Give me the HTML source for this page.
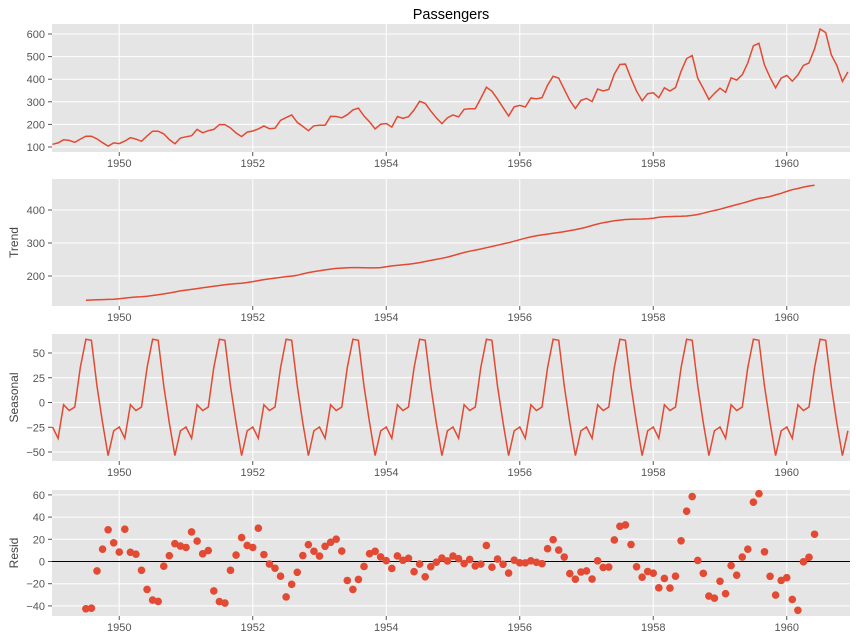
<!DOCTYPE html>
<html><head><meta charset="utf-8">
<style>
body{margin:0;background:#fff;}
svg{display:block;font-family:"Liberation Sans","DejaVu Sans",sans-serif;}
</style></head>
<body>
<svg id="s" width="856" height="640" xmlns="http://www.w3.org/2000/svg">
<text x="451" y="19" font-size="14.5" text-anchor="middle" fill="#000">Passengers</text>
</svg>
<script>
var d=[112,118,132,129,121,135,148,148,136,119,104,118,
115,126,141,135,125,149,170,170,158,133,114,140,
145,150,178,163,172,178,199,199,184,162,146,166,
171,180,193,181,183,218,230,242,209,191,172,194,
196,196,236,235,229,243,264,272,237,211,180,201,
204,188,235,227,234,264,302,293,259,229,203,229,
242,233,267,269,270,315,364,347,312,274,237,278,
284,277,317,313,318,374,413,405,355,306,271,306,
315,301,356,348,355,422,465,467,404,347,305,336,
340,318,362,348,363,435,491,505,404,359,310,337,
360,342,406,396,420,472,548,559,463,407,362,405,
417,391,419,461,472,535,622,606,508,461,390,432];
var n=d.length,tr=[],i,j;
for(i=0;i<n;i++){if(i<6||i>n-7){tr.push(null);continue;}
var s=0.5*d[i-6]+0.5*d[i+6];for(j=-5;j<=5;j++)s+=d[i+j];tr.push(s/12);}
var m=[];for(j=0;j<12;j++){var a=0,c=0;for(i=j;i<n;i+=12)if(tr[i]!==null){a+=d[i]-tr[i];c++;}m.push(a/c);}
var mm=m.reduce(function(a,b){return a+b},0)/12;m=m.map(function(v){return v-mm});
var se=[],re=[];for(i=0;i<n;i++){se.push(m[i%12]);re.push(tr[i]===null?null:d[i]-tr[i]-se[i]);}
function X(i){return 52.5+(i/12)*66.75;}
var L=52,R=850,svg=document.getElementById('s'),h='';
var P=[{t:24,b:152,y0:147,v0:100,k:0.226,ticks:[100,200,300,400,500,600],data:d,lab:''},
{t:179,b:306,y0:276,v0:200,k:0.33,ticks:[200,300,400],data:tr,lab:'Trend'},
{t:334,b:461,y0:402.5,v0:0,k:0.99,ticks:[-50,-25,0,25,50],data:se,lab:'Seasonal'},
{t:490,b:616,y0:561.5,v0:0,k:1.11,ticks:[-40,-20,0,20,40,60],data:re,lab:'Resid',dots:1}];
P.forEach(function(p){
h+='<rect x="'+L+'" y="'+p.t+'" width="'+(R-L)+'" height="'+(p.b-p.t)+'" fill="#e5e5e5"/>';
function Y(v){return p.y0-(v-p.v0)*p.k;}
for(var yr=1950;yr<=1960;yr+=2){var x=X((yr-1949)*12);
h+='<line x1="'+x+'" x2="'+x+'" y1="'+p.t+'" y2="'+p.b+'" stroke="#fff" stroke-width="1"/>';
h+='<line x1="'+x+'" x2="'+x+'" y1="'+p.b+'" y2="'+(p.b+4)+'" stroke="#555"/>';
h+='<text x="'+x+'" y="'+(p.b+15)+'" font-size="11" fill="#555" text-anchor="middle">'+yr+'</text>';}
p.ticks.forEach(function(v){var y=Y(v);
h+='<line x1="'+L+'" x2="'+R+'" y1="'+y+'" y2="'+y+'" stroke="#fff"/>';
h+='<line x1="'+(L-4)+'" x2="'+L+'" y1="'+y+'" y2="'+y+'" stroke="#555"/>';
h+='<text x="'+(L-7)+'" y="'+(y+4)+'" font-size="11" fill="#555" text-anchor="end">'+(v<0?'\u2212'+(-v):v)+'</text>';});
if(p.lab)h+='<text transform="translate(18,'+((p.t+p.b)/2)+') rotate(-90)" font-size="12" fill="#444" text-anchor="middle">'+p.lab+'</text>';
if(p.dots){h+='<line x1="'+L+'" x2="'+R+'" y1="'+Y(0)+'" y2="'+Y(0)+'" stroke="#000" stroke-width="0.9"/>';
p.data.forEach(function(v,i){if(v!==null)h+='<circle cx="'+X(i)+'" cy="'+Y(v)+'" r="3.8" fill="#e24a33"/>';});}
else{var pts=[];p.data.forEach(function(v,i){if(v!==null)pts.push(X(i).toFixed(1)+','+Y(v).toFixed(1));});
h+='<polyline points="'+pts.join(' ')+'" fill="none" stroke="#e24a33" stroke-width="1.5"/>';}
});
svg.insertAdjacentHTML('beforeend',h);
</script>
</body></html>
